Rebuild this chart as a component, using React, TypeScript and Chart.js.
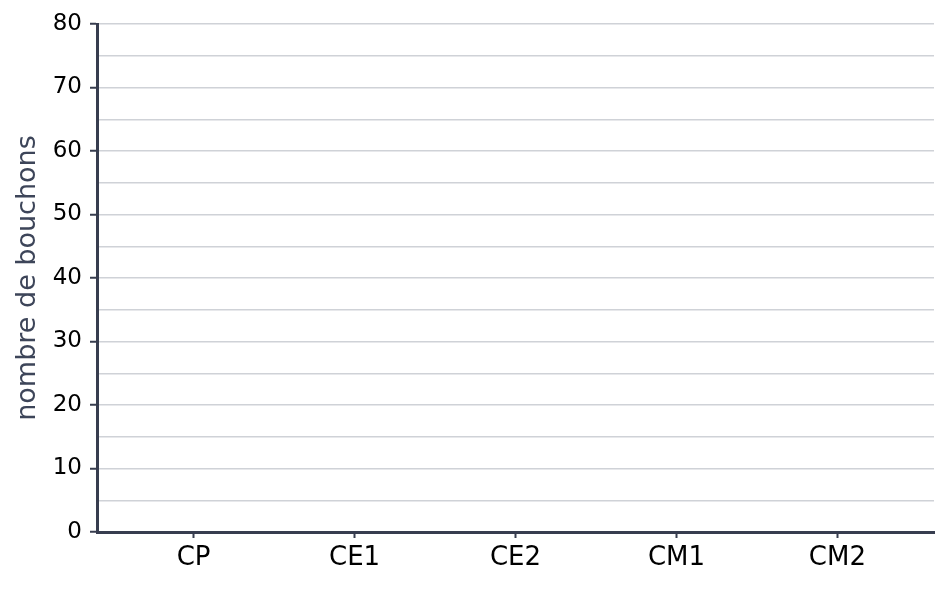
import React, { useEffect, useRef } from "react";
import { Chart, registerables } from "chart.js";

Chart.register(...registerables);

const categories = ["CP", "CE1", "CE2", "CM1", "CM2"];
const values = [0, 0, 0, 0, 0];
const yMin = 0;
const yMax = 80;
const yStep = 5;
const yLabelStep = 10;
const yTitle = "nombre de bouchons";

const AXIS = "#373d4f";
const GRID = "#cfd2d7";

export default function App() {
  const ref = useRef<HTMLCanvasElement | null>(null);
  useEffect(() => {
    document.body.style.margin = "0";
    const canvas = ref.current;
    if (!canvas) return;
    const chart = new Chart(canvas, {
      type: "bar",
      data: {
        datasets: [
          {
            data: values.map((v, i) => ({ x: i, y: v })),
            backgroundColor: "#4c72b0",
          },
        ],
      },
      options: {
        animation: false,
        responsive: false,
        devicePixelRatio: 1,
        layout: { padding: { top: 24, right: 15, left: 0, bottom: 0 } },
        plugins: { legend: { display: false }, tooltip: { enabled: false } },
        scales: {
          x: {
            type: "linear",
            offset: false,
            min: -0.6,
            max: categories.length - 0.4,
            afterFit: (s: any) => {
              s.height = 57;
            },
            ticks: {
              stepSize: 1,
              includeBounds: false,
              callback: (v: any) => {
                const n = Number(v);
                return Number.isInteger(n) ? categories[n] ?? "" : "";
              },
              color: "#000",
              font: { family: "DejaVu Sans", size: 26 },
              padding: 5,
              maxRotation: 0,
              autoSkip: false,
            },
            grid: {
              display: true,
              offset: false,
              drawOnChartArea: false,
              tickLength: 6,
              tickColor: AXIS,
              tickWidth: 2,
            },
            border: { display: true, color: AXIS, width: 3 },
          },
          y: {
            min: yMin,
            max: yMax,
            afterFit: (s: any) => {
              s.width = 97;
            },
            ticks: {
              stepSize: yStep,
              autoSkip: false,
              callback: (v: any) => (Number(v) % yLabelStep === 0 ? String(v) : ""),
              color: "#000",
              font: { family: "DejaVu Sans", size: 23 },
              padding: 8,
            },
            grid: {
              color: GRID,
              lineWidth: 1.5,
              tickLength: 7,
              tickWidth: 2,
              tickColor: (ctx: any) =>
                ctx.tick && ctx.tick.value % yLabelStep === 0 ? AXIS : "rgba(0,0,0,0)",
            },
            border: { display: true, color: AXIS, width: 3 },
            title: {
              display: true,
              text: yTitle,
              color: "#3d4559",
              font: { family: "DejaVu Sans", size: 27 },
              padding: { top: 12, bottom: 0 },
            },
          },
        },
      },
    } as any);
    return () => chart.destroy();
  }, []);
  return (
    <div style={{ width: 949, height: 589 }}>
      <canvas ref={ref} width={949} height={589} />
    </div>
  );
}
